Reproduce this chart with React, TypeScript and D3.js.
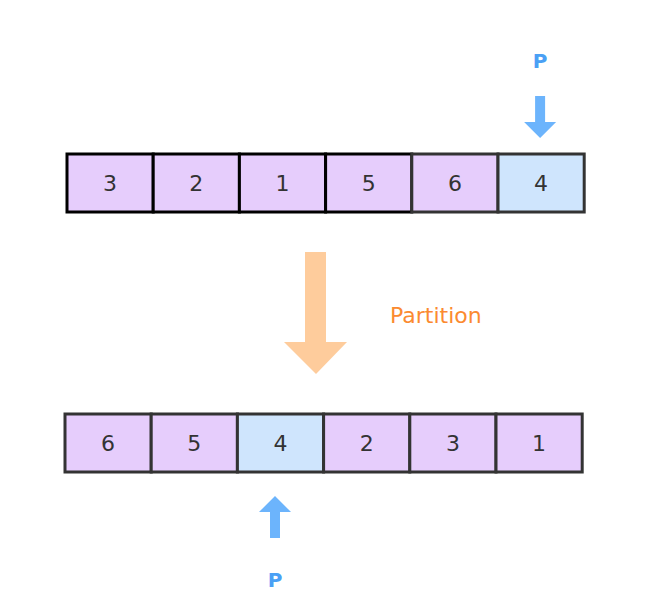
import React from "react";
import * as d3 from "d3";

const before = [3, 2, 1, 5, 6, 4];
const after = [6, 5, 4, 2, 3, 1];
const pivotBefore = 5;
const pivotAfter = 2;

const purple = "#e6cdfc";
const blue = "#cfe5fd";
const arrowBlue = "#6cb4fc";
const font = "'DejaVu Sans', sans-serif";

const App: React.FC = () => {
  const W = 654;
  const H = 604;
  const cell = 86.2;
  const topX = d3.scaleBand<number>().domain(d3.range(6)).range([67, 67 + cell * 6]);
  const botX = d3.scaleBand<number>().domain(d3.range(6)).range([65, 65 + cell * 6]);
  const rowH = 58;

  const row = (vals: number[], x: d3.ScaleBand<number>, y: number, pivot: number, top: boolean) => (
    <g>
      {vals.map((v, i) => (
        <g key={i}>
          <rect
            x={x(i)!}
            y={y}
            width={x.bandwidth()}
            height={rowH}
            fill={i === pivot ? blue : purple}
            stroke={top && i < 4 ? "#000" : "#333"}
            strokeWidth={3}
          />
          <text
            x={x(i)! + x.bandwidth() / 2}
            y={y + rowH / 2 + 8}
            textAnchor="middle"
            fontFamily={font}
            fontSize={22}
            fill="#333"
          >
            {v}
          </text>
        </g>
      ))}
    </g>
  );

  const pcTop = topX(pivotBefore)! + topX.bandwidth() / 2 - 1;
  const pcBot = 275;

  return (
    <svg width={W} height={H} style={{ position: "absolute", left: 0, top: 0 }}>
      <rect width={W} height={H} fill="#fff" />
      <text x={pcTop} y={68} textAnchor="middle" fontFamily={font} fontWeight="bold" fontSize={20} fill="#4aa0f5">P</text>
      <path
        d={`M${pcTop - 5},96 H${pcTop + 5} V122 H${pcTop + 16} L${pcTop},138 L${pcTop - 16},122 H${pcTop - 5} Z`}
        fill={arrowBlue}
      />
      {row(before, topX, 154, pivotBefore, true)}
      <path d="M305,252 H326 V342 H347 L316,374 L284,342 H305 Z" fill="#fecc9c" />
      <text x={390} y={323} fontFamily={font} fontSize={22} fill="#fb8a30">Partition</text>
      {row(after, botX, 414, pivotAfter, false)}
      <path
        d={`M${pcBot - 5},538 H${pcBot + 5} V512 H${pcBot + 16} L${pcBot},496 L${pcBot - 16},512 H${pcBot - 5} Z`}
        fill={arrowBlue}
      />
      <text x={pcBot} y={587} textAnchor="middle" fontFamily={font} fontWeight="bold" fontSize={20} fill="#4aa0f5">P</text>
    </svg>
  );
};

export default App;
